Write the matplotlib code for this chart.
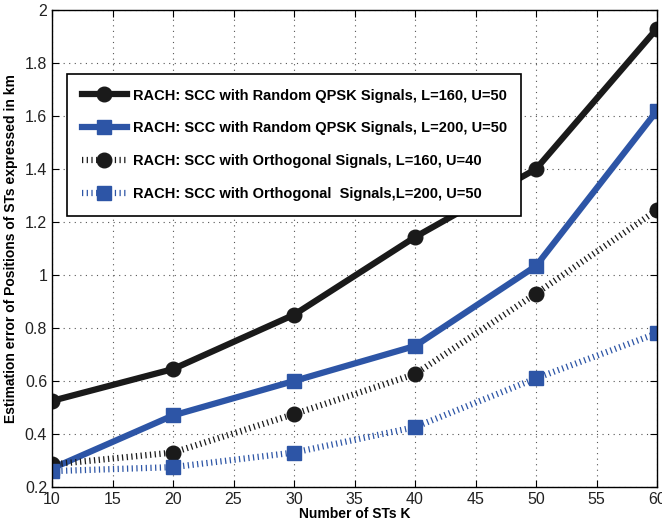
import matplotlib.pyplot as plt

plt.rcParams['font.family'] = ['Liberation Sans', 'DejaVu Sans']

k = [10, 20, 30, 40, 50, 60]
rand_160 = [0.525, 0.645, 0.85, 1.143, 1.40, 1.93]
rand_200 = [0.27, 0.47, 0.60, 0.732, 1.034, 1.62]
orth_160 = [0.285, 0.33, 0.475, 0.626, 0.93, 1.245]
orth_200 = [0.26, 0.275, 0.33, 0.426, 0.61, 0.78]

labels = ['RACH: SCC with Random QPSK Signals, L=160, U=50',
          'RACH: SCC with Random QPSK Signals, L=200, U=50',
          'RACH: SCC with Orthogonal Signals, L=160, U=40',
          'RACH: SCC with Orthogonal  Signals,L=200, U=50']

black = '#1a1a1a'
blue = '#2d55a6'
dots = (0, (0.2, 0.55))

fig = plt.figure(figsize=(6.62, 5.23), dpi=100)
ax = fig.add_axes([52/662, 1 - 487/523, 605/662, 477/523])

ax.plot(k, rand_160, color=black, lw=4.5, marker='o', ms=10.5, label=labels[0])
ax.plot(k, rand_200, color=blue, lw=4.5, marker='s', ms=10, label=labels[1])
ax.plot(k, orth_160, color=black, lw=4.5, ls=dots, marker='o', ms=10.5, label=labels[2])
ax.plot(k, orth_200, color=blue, lw=4.5, ls=dots, marker='s', ms=10, label=labels[3])

ax.set_xlim(10, 60)
ax.set_ylim(0.2, 2)
ax.set_xticks(range(10, 61, 5))
yt = [0.2, 0.4, 0.6, 0.8, 1.0, 1.2, 1.4, 1.6, 1.8, 2.0]
ax.set_yticks(yt)
ax.set_yticklabels(['%g' % v for v in yt])
ax.tick_params(direction='in', top=True, right=True, labelsize=11.5, length=5,
               labelcolor='#222222')
ax.grid(True, ls=(0, (1, 4)), color='#555555', lw=0.8)
for s in ax.spines.values():
    s.set_linewidth(1.0)

ax.set_xlabel('Number of STs K', fontsize=10, fontweight='bold', labelpad=0)
ax.set_ylabel('Estimation error of Positions of STs expressed in km', fontsize=10,
              fontweight='bold', labelpad=5)

leg = ax.legend(loc='upper left', bbox_to_anchor=(0.025, 0.866), borderaxespad=0,
                fancybox=False, edgecolor='black', framealpha=1,
                prop={'weight': 'bold', 'size': 10.5}, handlelength=3.1,
                handletextpad=0.4, labelspacing=1.3, borderpad=1.0)
leg.get_frame().set_linewidth(1.2)

fig.savefig('out.png', dpi=100)
